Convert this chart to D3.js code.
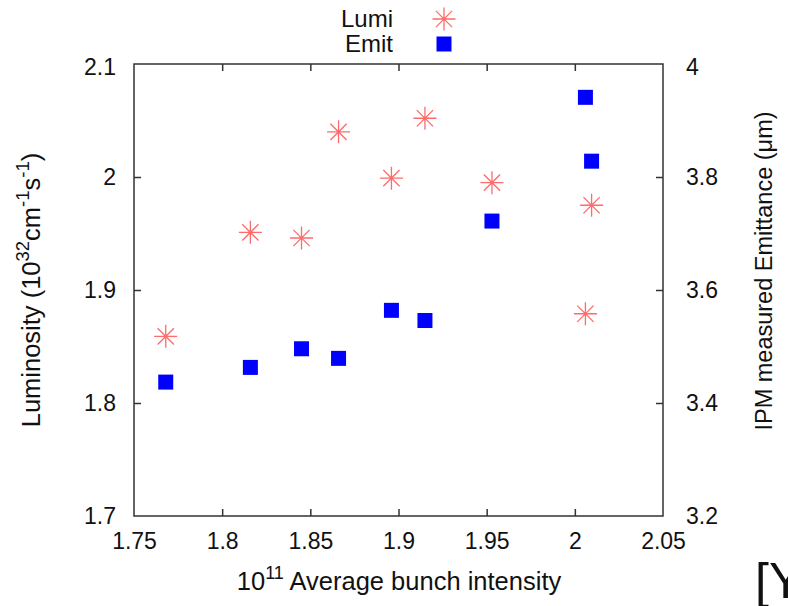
<!DOCTYPE html>
<html>
<head>
<meta charset="utf-8">
<script src="https://cdn.jsdelivr.net/npm/d3@7"></script>
<style>
  body { margin: 0; background: #fff; overflow: hidden; }
  text { font-family: "Liberation Sans", Arial, sans-serif; fill: #111; }
</style>
</head>
<body>
<div id="chart"></div>
<script>
// bunch intensity (10^11), same x for both series
const intensity = [1.768, 1.816, 1.845, 1.866, 1.896, 1.915, 1.953, 2.006, 2.0095];
const lumi = [1.859, 1.951, 1.946, 2.040, 1.999, 2.052, 1.995, 1.879, 1.975];
const emit = [3.437, 3.463, 3.496, 3.479, 3.564, 3.546, 3.722, 3.941, 3.828];

const xTicks = [1.75, 1.8, 1.85, 1.9, 1.95, 2, 2.05];
const yLeftTicks = [1.7, 1.8, 1.9, 2, 2.1];
const yRightTicks = [3.2, 3.4, 3.6, 3.8, 4];
const seriesNames = ["Lumi", "Emit"];

function draw() {
    const W = 788, H = 606;
    const left = 134, right = 663, top = 64, bottom = 516;

    const svg = d3.select("#chart").append("svg")
        .attr("width", W).attr("height", H);

    const x = d3.scaleLinear().domain([1.75, 2.05]).range([left, right]);
    const yL = d3.scaleLinear().domain([1.7, 2.1]).range([bottom, top]);
    const yR = d3.scaleLinear().domain([3.2, 4]).range([bottom, top]);

    const fmt = d3.format("");

    // axes, ticks pointing inward
    const gx = svg.append("g").attr("transform", "translate(0," + bottom + ")")
        .call(d3.axisBottom(x).tickValues(xTicks).tickFormat(fmt).tickSizeInner(-7).tickSizeOuter(0).tickPadding(17));
    const gxTop = svg.append("g").attr("transform", "translate(0," + top + ")")
        .call(d3.axisTop(x).tickValues(xTicks).tickFormat("").tickSizeInner(-7).tickSizeOuter(0));
    const gyl = svg.append("g").attr("transform", "translate(" + left + ",0)")
        .call(d3.axisLeft(yL).tickValues(yLeftTicks).tickFormat(fmt).tickSizeInner(-7).tickSizeOuter(0).tickPadding(18));
    const gyr = svg.append("g").attr("transform", "translate(" + right + ",0)")
        .call(d3.axisRight(yR).tickValues(yRightTicks).tickFormat(fmt).tickSizeInner(-7).tickSizeOuter(0).tickPadding(23));

    [gx, gxTop, gyl, gyr].forEach(g => {
        g.select(".domain").remove();
        g.selectAll(".tick line").attr("stroke", "#333").attr("stroke-width", 1.5);
        g.selectAll(".tick text").attr("font-size", 23).attr("fill", "#111")
            .style("font-family", "Liberation Sans, Arial, sans-serif");
    });
    // no inner ticks on the frame corners
    gx.selectAll(".tick line").filter(d => d === 1.75 || d === 2.05).remove();
    gxTop.selectAll(".tick line").filter(d => d === 1.75 || d === 2.05).remove();
    gyl.selectAll(".tick line").filter(d => d === 1.7 || d === 2.1).remove();
    gyr.selectAll(".tick line").filter(d => d === 3.2 || d === 4).remove();
    // top labels of the y axes sit a bit low in the original
    gyl.selectAll(".tick text").filter(d => d === 2.1).attr("dy", "0.45em");
    gyr.selectAll(".tick text").filter(d => d === 4).attr("dy", "0.45em");

    svg.append("rect")
        .attr("x", left).attr("y", top)
        .attr("width", right - left).attr("height", bottom - top)
        .attr("fill", "none").attr("stroke", "#333").attr("stroke-width", 1.5);

    // x title
    const xt = svg.append("text").attr("x", 399).attr("y", 590)
        .attr("text-anchor", "middle").attr("font-size", 25.5);
    xt.append("tspan").text("10");
    xt.append("tspan").attr("dy", -11).attr("font-size", 18).text("11");
    xt.append("tspan").attr("dy", 11).text(" Average bunch intensity");

    // left title
    const lt = svg.append("text").attr("transform", "translate(40,290) rotate(-90)")
        .attr("text-anchor", "middle").attr("font-size", 25.5);
    lt.append("tspan").text("Luminosity (10");
    lt.append("tspan").attr("dy", -11).attr("font-size", 18.5).text("32");
    lt.append("tspan").attr("dy", 11).text("cm");
    lt.append("tspan").attr("dy", -11).attr("font-size", 18.5).text("-1");
    lt.append("tspan").attr("dy", 11).text("s");
    lt.append("tspan").attr("dy", -11).attr("font-size", 18.5).text("-1");
    lt.append("tspan").attr("dy", 11).text(")");

    // right title
    svg.append("text").attr("transform", "translate(772,271) rotate(-90)")
        .attr("text-anchor", "middle").attr("font-size", 23.5)
        .text("IPM measured Emittance (\u03bcm)");

    // star marker
    const starR = 11.5;
    function star(g, cx, cy) {
        const d = [0, 45, 90, 135].map(a => {
            const r = a * Math.PI / 180;
            const dx = Math.cos(r) * starR, dy = Math.sin(r) * starR;
            return "M" + (cx - dx) + "," + (cy - dy) + "L" + (cx + dx) + "," + (cy + dy);
        }).join("");
        g.append("path").attr("d", d).attr("stroke", "#ff4545")
            .attr("stroke-width", 1.3).attr("stroke-opacity", 0.8).attr("fill", "none");
    }

    const sq = 15;
    const lumiG = svg.append("g");
    intensity.forEach((v, i) => star(lumiG, x(v), yL(lumi[i])));

    svg.append("g").selectAll("rect")
        .data(intensity)
        .enter()
        .append("rect")
        .attr("x", (d, i) => x(d) - sq / 2)
        .attr("y", (d, i) => yR(emit[i]) - sq / 2)
        .attr("width", sq).attr("height", sq)
        .attr("fill", "#0000ff");

    // legend
    const lg = svg.append("g");
    lg.append("text").attr("x", 393).attr("y", 27).attr("text-anchor", "end")
        .attr("font-size", 24).text(seriesNames[0]);
    lg.append("text").attr("x", 393).attr("y", 52).attr("text-anchor", "end")
        .attr("font-size", 24).text(seriesNames[1]);
    star(lg, 444, 19);
    lg.append("rect").attr("x", 444 - sq / 2).attr("y", 44 - sq / 2)
        .attr("width", sq).attr("height", sq).attr("fill", "#0000ff");

    // fragment of the next slide at the bottom right
    svg.append("text").attr("x", 755).attr("y", 598).attr("font-size", 50).text("[Y");
}

draw();
</script>
</body>
</html>
